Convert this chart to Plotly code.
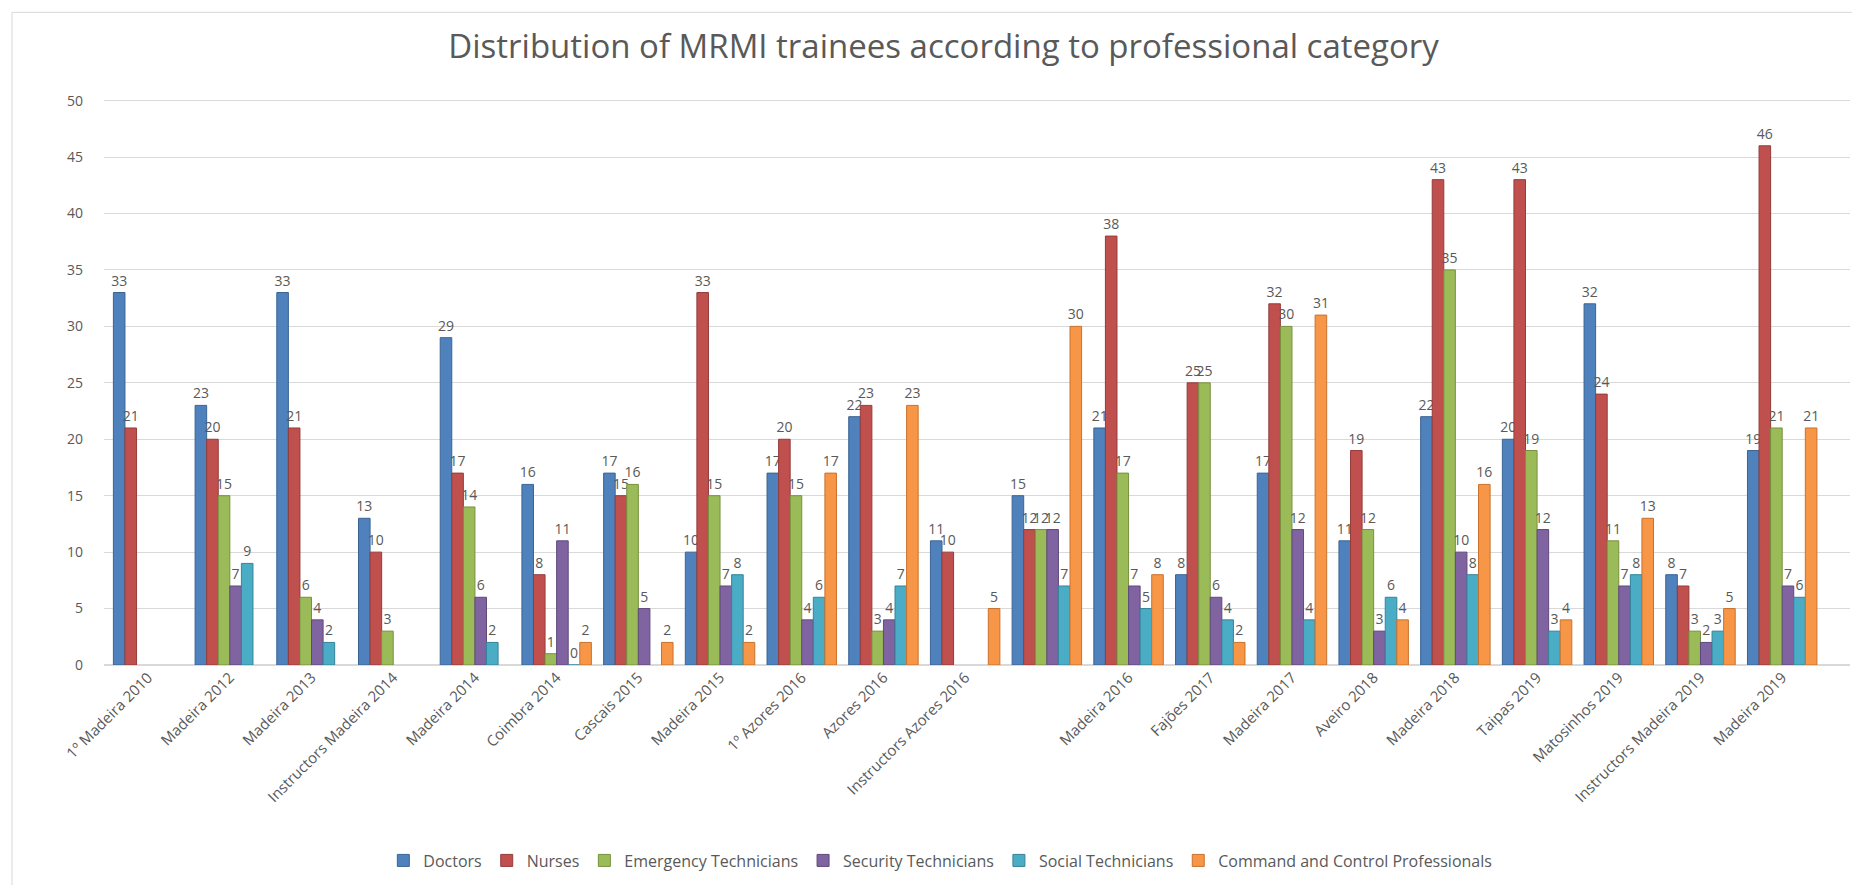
import plotly.graph_objects as go

categories = ["1º Madeira 2010", "Madeira 2012", "Madeira 2013", "Instructors Madeira 2014",
              "Madeira 2014", "Coimbra 2014", "Cascais 2015", "Madeira 2015", "1º Azores 2016",
              "Azores 2016", "Instructors Azores 2016", " ", "Madeira 2016", "Fajões 2017",
              "Madeira 2017", "Aveiro 2018", "Madeira 2018", "Taipas 2019", "Matosinhos 2019",
              "Instructors Madeira 2019", "Madeira 2019"]

doctors = [33, 23, 33, 13, 29, 16, 17, 10, 17, 22, 11, 15, 21, 8, 17, 11, 22, 20, 32, 8, 19]
nurses = [21, 20, 21, 10, 17, 8, 15, 33, 20, 23, 10, 12, 38, 25, 32, 19, 43, 43, 24, 7, 46]
emergency = [None, 15, 6, 3, 14, 1, 16, 15, 15, 3, None, 12, 17, 25, 30, 12, 35, 19, 11, 3, 21]
security = [None, 7, 4, None, 6, 11, 5, 7, 4, 4, None, 12, 7, 6, 12, 3, 10, 12, 7, 2, 7]
social = [None, 9, 2, None, 2, 0, None, 8, 6, 7, None, 7, 5, 4, 4, 6, 8, 3, 8, 3, 6]
command = [None, None, None, None, None, 2, 2, 2, 17, 23, 5, 30, 8, 2, 31, 4, 16, 4, 13, 5, 21]

series = [
    ("Doctors", doctors, "#4F81BD", "#3A6494"),
    ("Nurses", nurses, "#C0504D", "#943C3A"),
    ("Emergency Technicians", emergency, "#9BBB59", "#77913F"),
    ("Security Technicians", security, "#8064A2", "#5F4A7A"),
    ("Social Technicians", social, "#4BACC6", "#348499"),
    ("Command and Control Professionals", command, "#F79646", "#C8722E"),
]

fig = go.Figure()
for name, vals, col, edge in series:
    fig.add_trace(go.Bar(
        name=name, x=categories, y=vals,
        marker=dict(color=col, line=dict(color=edge, width=1)),
        text=[("" if v is None else str(v)) for v in vals],
        textposition="outside", textangle=0, constraintext="none", cliponaxis=False,
        textfont=dict(family="Open Sans", size=14, color="#595959"),
    ))

fig.update_layout(
    barmode="group", bargap=0.15, bargroupgap=0,
    width=1860, height=885,
    margin=dict(l=96, r=18, t=87, b=228),
    paper_bgcolor="white", plot_bgcolor="white",
    title=dict(text="Distribution of MRMI trainees according to professional category",
               x=0.503, xanchor="center", y=0.956, yanchor="middle",
               font=dict(family="Open Sans", size=33, color="#595959")),
    font=dict(family="Open Sans", color="#595959"),
    legend=dict(orientation="h", x=0.479, xanchor="center", y=-0.343, yanchor="middle",
                font=dict(size=16, color="#595959"), itemwidth=30, traceorder="normal"),
    xaxis=dict(type="category", range=[-0.54, 20.83], tickangle=-45, showgrid=False,
               showline=False, ticks="", tickfont=dict(size=15, color="#595959")),
    yaxis=dict(range=[0, 50.5], dtick=5, showgrid=True, gridcolor="#D9D9D9", gridwidth=1,
               zeroline=True, zerolinecolor="#D9D9D9", showline=False, ticks="",
               ticklabelstandoff=20, tickfont=dict(size=14, color="#595959")),
    shapes=[
        dict(type="line", xref="paper", yref="paper", x0=-0.0527, x1=-0.0527, y0=-0.5, y1=1.145,
             line=dict(color="#D9D9D9", width=1)),
        dict(type="line", xref="paper", yref="paper", x0=-0.0527, x1=1.02, y0=1.145, y1=1.145,
             line=dict(color="#D9D9D9", width=1)),
    ],
)

fig.write_html("out.html")
